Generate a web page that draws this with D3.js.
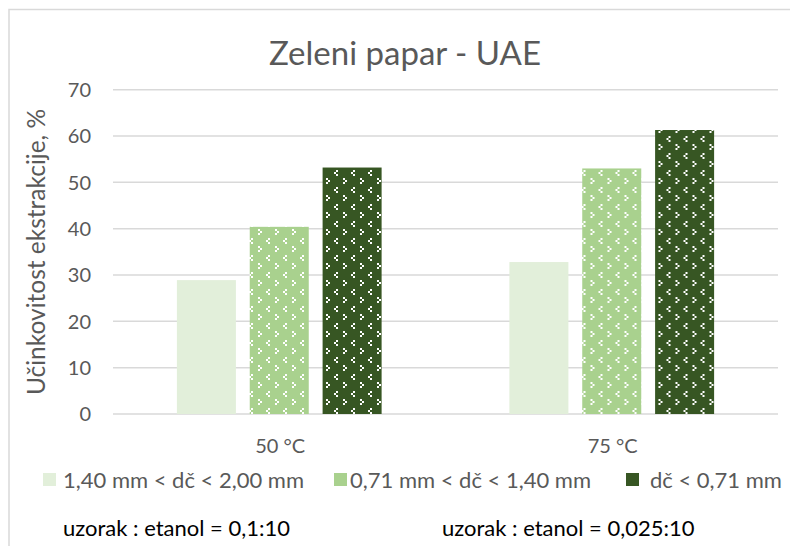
<!DOCTYPE html>
<html lang="hr">
<head>
<meta charset="utf-8">
<style>
    body { margin: 0; background: #fff; }
    text { font-family: Lato, "Open Sans", sans-serif; fill: #595959; }
    .grid line { stroke: #d9d9d9; stroke-width: 1.5; }
</style>
</head>
<body>
<svg width="790" height="546"></svg>
<script src="https://cdn.jsdelivr.net/npm/d3@7/dist/d3.min.js"></script>
<script>
    // data
    var categories = ["50 °C", "75 °C"];
    var seriesNames = ["1,40 mm < dč < 2,00 mm", "0,71 mm < dč < 1,40 mm", "dč < 0,71 mm"];
    var series1 = [28.9, 32.8];
    var series2 = [40.4, 53.0];
    var series3 = [53.2, 61.3];
    var yTicks = [0, 10, 20, 30, 40, 50, 60, 70];
    var notes = ["uzorak : etanol = 0,1:10", "uzorak : etanol = 0,025:10"];

    var colors = ["#e2efda", "#a9d18e", "#375623"];
    var values = [series1, series2, series3];

    var svg = d3.select("svg");

    // chart border
    svg.append("rect")
        .attr("x", 9).attr("y", 9.5)
        .attr("width", 790).attr("height", 600)
        .attr("fill", "none")
        .attr("stroke", "#d9d9d9")
        .attr("stroke-width", 1.5);

    // white chevron patterns
    var defs = svg.append("defs");
    [1, 2].forEach(function (k) {
        var p = defs.append("pattern")
            .attr("id", "pat" + k)
            .attr("patternUnits", "userSpaceOnUse")
            .attr("width", 17).attr("height", 17);
        p.append("rect").attr("width", 17).attr("height", 17).attr("fill", colors[k]);
        var dots = [[2, 0], [0, 2], [2, 4], [9, 8], [11, 10], [9, 12]];
        dots.forEach(function (d) {
            p.append("rect").attr("x", d[0]).attr("y", d[1])
                .attr("width", 2).attr("height", 2).attr("fill", "#fff");
        });
    });
    var fills = [colors[0], "url(#pat1)", "url(#pat2)"];

    var plotLeft = 113, plotRight = 778, plotTop = 89.7, plotBottom = 414;

    var x0 = d3.scaleBand().domain(categories).range([plotLeft, plotRight]).paddingInner(0).paddingOuter(0);
    var x1 = d3.scaleBand().domain(d3.range(3)).range([0, x0.bandwidth()]).paddingInner(0.19).paddingOuter(0.877);
    var y = d3.scaleLinear().domain([0, 70]).range([plotBottom, plotTop]);

    // gridlines
    svg.append("g").attr("class", "grid")
        .selectAll("line").data(yTicks).enter().append("line")
        .attr("x1", plotLeft).attr("x2", plotRight)
        .attr("y1", function (d) { return y(d); })
        .attr("y2", function (d) { return y(d); });

    // y tick labels
    svg.append("g").selectAll("text").data(yTicks).enter().append("text")
        .attr("x", 91)
        .attr("y", function (d) { return y(d); })
        .attr("dy", "0.36em")
        .attr("text-anchor", "end")
        .style("font-size", "20px")
        .text(function (d) { return d; });

    // bars
    var groups = svg.append("g").selectAll("g").data(categories).enter().append("g")
        .attr("transform", function (d) { return "translate(" + x0(d) + ",0)"; });
    groups.selectAll("rect")
        .data(function (c, ci) { return values.map(function (v, si) { return { s: si, v: v[ci] }; }); })
        .enter().append("rect")
        .attr("x", function (d) { return x1(d.s); })
        .attr("width", x1.bandwidth())
        .attr("y", function (d) { return y(d.v); })
        .attr("height", function (d) { return plotBottom - y(d.v); })
        .attr("fill", function (d) { return fills[d.s]; });

    // category labels
    svg.append("g").selectAll("text").data(categories).enter().append("text")
        .attr("x", function (d) { return x0(d) + x0.bandwidth() / 2 + 1; })
        .attr("y", 453)
        .attr("text-anchor", "middle")
        .style("font-size", "20px")
        .text(function (d) { return d; });

    // title
    svg.append("text")
        .attr("x", 405).attr("y", 65)
        .attr("text-anchor", "middle")
        .style("font-size", "33px")
        .text("Zeleni papar - UAE");

    // y axis title
    svg.append("text")
        .attr("transform", "translate(45,252) rotate(-90)")
        .attr("text-anchor", "middle")
        .style("font-size", "24.5px")
        .text("Učinkovitost ekstrakcije, %");

    // legend
    var legendX = [43, 334, 626];
    var legendTextX = [63, 350, 650];
    var lg = svg.append("g").selectAll("g").data(seriesNames).enter().append("g");
    lg.append("rect")
        .attr("x", function (d, i) { return legendX[i]; })
        .attr("y", 473)
        .attr("width", 13).attr("height", 13)
        .attr("fill", function (d, i) { return colors[i]; });
    lg.append("text")
        .attr("x", function (d, i) { return legendTextX[i]; })
        .attr("y", 488)
        .style("font-size", "22px")
        .text(function (d) { return d; });

    // notes
    var noteX = [63, 442];
    svg.append("g").selectAll("text").data(notes).enter().append("text")
        .attr("x", function (d, i) { return noteX[i]; })
        .attr("y", 536)
        .style("font-size", "22px")
        .style("fill", "#000")
        .text(function (d) { return d; });
</script>
</body>
</html>
